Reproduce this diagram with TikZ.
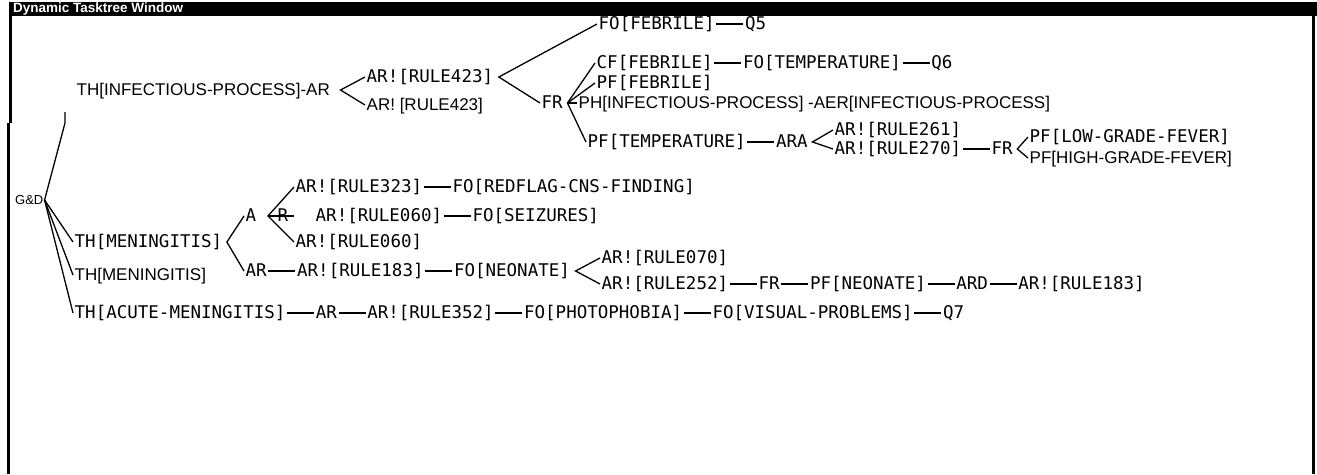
\documentclass[tikz,border=0pt]{standalone}
\usepackage{fontspec}
\setmainfont{Liberation Sans}
\newfontfamily\lispfont{DejaVu Sans Mono}
\usetikzlibrary{positioning}

\begin{document}
\begin{tikzpicture}[x=1pt,y=-1pt,
  lbl/.style={anchor=west, inner sep=1.5pt, text height=12.5pt, text depth=1pt, font=\lispfont\fontsize{17.5}{18}\selectfont},
  plbl/.style={anchor=west, inner sep=1.5pt, text height=12.5pt, text depth=1pt, font=\fontsize{17}{18}\selectfont},
  conn/.style={line width=1.3pt}]
\useasboundingbox (0,0) rectangle (1317,474);
% window frame:
\fill (9,2) rectangle (1317,16);
\node[anchor=west, inner sep=0pt, text=white, font=\bfseries\fontsize{13.5}{14}\selectfont] (title) at (13,9) {Dynamic Tasktree Window};
\draw[line width=3pt] (10,16) -- (10,123);
\draw[line width=3pt] (8,123) -- (8,474);
\draw[line width=3pt] (1313,16) -- (1313,474);
% root:
\node[anchor=west, inner sep=1pt, font=\fontsize{13}{14}\selectfont] (gd) at (14,200) {G\&D};
\coordinate (bend) at (65,123);
\coordinate (stub) at (65,112);
\draw[conn] (gd.east) -- (bend) -- (stub);
% infectious process:
\node[plbl] (thinf) at (75,90) {TH[INFECTIOUS-PROCESS]-AR};
\coordinate (j1) at ([xshift=9pt]thinf.east);
\node[lbl] (ar423a) at (365,77) {AR![RULE423]};
\node[plbl] (ar423b) at (365,105) {AR! [RULE423]};
\draw[conn] (ar423a.west) -- (j1) -- (ar423b.west);
\coordinate (j2) at ([xshift=4pt]ar423a.east);
\node[lbl] (fofeb) at (597,24) {FO[FEBRILE]};
\node[lbl, right=27pt of fofeb] (q5) {Q5};
\node[lbl] (fr) at (540,103) {FR};
\draw[conn] (fofeb.west) -- (j2) -- (fr.west);
\draw[conn] (fofeb) -- (q5);
\coordinate (j3) at ([xshift=3pt]fr.east);
\node[lbl] (cffeb) at (595,63) {CF[FEBRILE]};
\node[lbl, right=27pt of cffeb] (fotemp) {FO[TEMPERATURE]};
\node[lbl, right=27pt of fotemp] (q6) {Q6};
\node[lbl] (pffeb) at (595,83) {PF[FEBRILE]};
\node[plbl] (ph) at (577,103) {PH[INFECTIOUS-PROCESS] -AER[INFECTIOUS-PROCESS]};
\node[lbl] (pftemp) at (586,142) {PF[TEMPERATURE]};
\draw[conn] (cffeb.west) -- (j3) -- (pftemp.west);
\draw[conn] (j3) -- (pffeb.west);
\draw[conn] (j3) -- (ph.west);
\draw[conn] (cffeb) -- (fotemp);
\draw[conn] (fotemp) -- (q6);
\node[lbl, right=27pt of pftemp] (ara) {ARA};
\draw[conn] (pftemp) -- (ara);
\coordinate (j4) at ([xshift=3pt]ara.east);
\node[lbl] (ar261) at (833,130) {AR![RULE261]};
\node[lbl] (ar270) at (833,149) {AR![RULE270]};
\draw[conn] (ar261.west) -- (j4) -- (ar270.west);
\node[lbl, right=27pt of ar270] (frb) {FR};
\draw[conn] (ar270) -- (frb);
\coordinate (j5) at ([xshift=3pt]frb.east);
\node[lbl] (pflow) at (1028,137) {PF[LOW-GRADE-FEVER]};
\node[plbl] (pfhigh) at (1028,158) {PF[HIGH-GRADE-FEVER]};
\draw[conn] (pflow.west) -- (j5) -- (pfhigh.west);
% meningitis:
\node[lbl] (thmen) at (73,242) {TH[MENINGITIS]};
\node[plbl] (thmenb) at (73,275) {TH[MENINGITIS]};
\node[lbl] (thacute) at (73,313) {TH[ACUTE-MENINGITIS]};
\draw[conn] (gd.east) -- (thmen.west);
\draw[conn] (gd.east) -- (thmenb.west);
\draw[conn] (gd.east) -- (thacute.west);
\coordinate (j6) at ([xshift=3pt]thmen.east);
\node[lbl] (a) at (244,216) {A};
\node[lbl] (ar) at (244,271) {AR};
\draw[conn] (a.west) -- (j6) -- (ar.west);
\coordinate (j7) at ([xshift=10pt]a.east);
\node[lbl] (r) at (276,216) {R};
\draw[conn] (j7) -- ([xshift=4pt]r.east);
\node[lbl] (ar323) at (294,187) {AR![RULE323]};
\node[lbl] (ar060b) at (294,242) {AR![RULE060]};
\draw[conn] (ar323.west) -- (j7) -- (ar060b.west);
\node[lbl] (ar060a) at (314,216) {AR![RULE060]};
\node[lbl, right=27pt of ar323] (redflag) {FO[REDFLAG-CNS-FINDING]};
\node[lbl, right=27pt of ar060a] (seiz) {FO[SEIZURES]};
\draw[conn] (ar323) -- (redflag);
\draw[conn] (ar060a) -- (seiz);
\node[lbl, right=27pt of ar] (ar183) {AR![RULE183]};
\node[lbl, right=27pt of ar183] (foneo) {FO[NEONATE]};
\draw[conn] (ar) -- (ar183);
\draw[conn] (ar183) -- (foneo);
\coordinate (j8) at ([xshift=4pt]foneo.east);
\node[lbl] (ar070) at (600,258) {AR![RULE070]};
\node[lbl] (ar252) at (600,284) {AR![RULE252]};
\draw[conn] (ar070.west) -- (j8) -- (ar252.west);
\node[lbl, right=27pt of ar252] (frc) {FR};
\node[lbl, right=27pt of frc] (pfneo) {PF[NEONATE]};
\node[lbl, right=27pt of pfneo] (ard) {ARD};
\node[lbl, right=27pt of ard] (ar183b) {AR![RULE183]};
\draw[conn] (ar252) -- (frc);
\draw[conn] (frc) -- (pfneo);
\draw[conn] (pfneo) -- (ard);
\draw[conn] (ard) -- (ar183b);
% acute meningitis:
\node[lbl, right=27pt of thacute] (arc) {AR};
\node[lbl, right=27pt of arc] (ar352) {AR![RULE352]};
\node[lbl, right=27pt of ar352] (fophoto) {FO[PHOTOPHOBIA]};
\node[lbl, right=27pt of fophoto] (fovis) {FO[VISUAL-PROBLEMS]};
\node[lbl, right=27pt of fovis] (q7) {Q7};
\draw[conn] (thacute) -- (arc);
\draw[conn] (arc) -- (ar352);
\draw[conn] (ar352) -- (fophoto);
\draw[conn] (fophoto) -- (fovis);
\draw[conn] (fovis) -- (q7);
\end{tikzpicture}
\end{document}
